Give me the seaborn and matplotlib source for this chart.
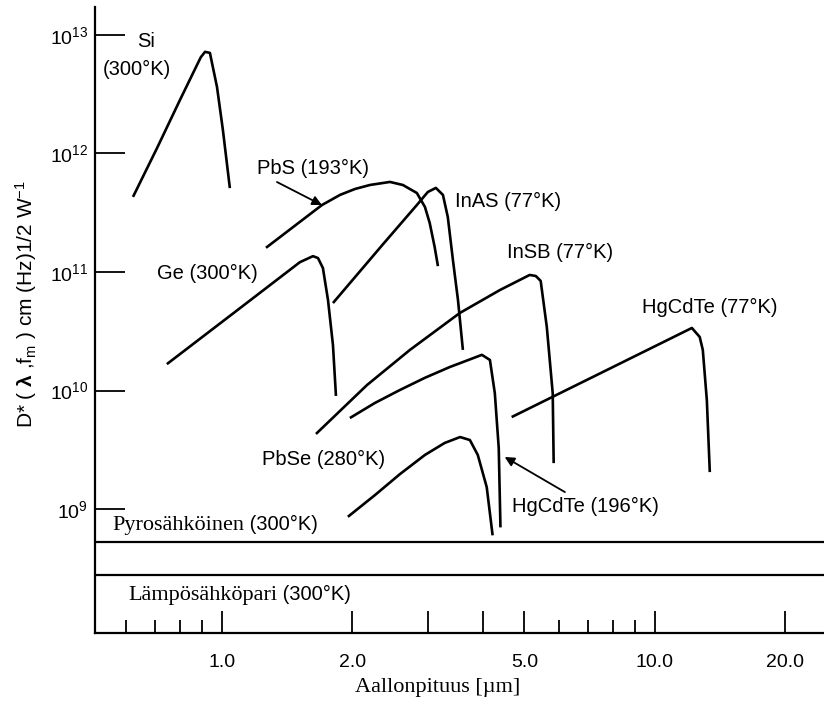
import matplotlib
matplotlib.use("Agg")
import matplotlib.pyplot as plt
import seaborn as sns
import pandas as pd
from matplotlib.ticker import FixedLocator, FixedFormatter, NullFormatter

# ---------------- data (wavelength in um, D* in cm Hz^1/2 W^-1) ----------------
si_x = [0.623, 0.708, 0.800, 0.876, 0.894, 0.914, 0.938, 0.974, 1.005, 1.043]
si_y = [4.3e11, 1.11e12, 2.83e12, 5.59e12, 6.5e12, 7.2e12, 7.05e12, 3.64e12, 1.58e12, 5.1e11]

ge_x = [0.746, 1.072, 1.514, 1.623, 1.667, 1.711, 1.758, 1.805, 1.834]
ge_y = [1.67e10, 4.6e10, 1.21e11, 1.36e11, 1.31e11, 1.08e11, 5.8e10, 2.42e10, 9.0e9]

pbs_x = [1.264, 1.702, 1.874, 2.028, 2.197, 2.444, 2.618, 2.82, 2.944, 3.02, 3.10, 3.155]
pbs_y = [1.6e11, 3.67e11, 4.47e11, 5.01e11, 5.42e11, 5.75e11, 5.42e11, 4.64e11, 3.54e11,
         2.59e11, 1.63e11, 1.12e11]

inas_x = [1.805, 2.354, 2.82, 2.99, 3.12, 3.24, 3.325, 3.417, 3.51, 3.603]
inas_y = [5.47e10, 1.71e11, 3.67e11, 4.73e11, 5.12e11, 4.47e11, 2.91e11, 1.26e11, 5.8e10, 2.2e10]

insb_x = [1.649, 2.162, 2.718, 3.545, 4.39, 5.14, 5.31, 5.45, 5.63, 5.81, 5.84]
insb_y = [4.3e9, 1.11e10, 2.20e10, 4.51e10, 7.05e10, 9.44e10, 9.25e10, 8.4e10, 3.44e10,
          9.5e9, 2.44e9]

hgcdte77_x = [4.67, 7.46, 12.18, 12.7, 12.91, 13.19, 13.4]
hgcdte77_y = [5.97e9, 1.39e10, 3.37e10, 2.83e10, 2.2e10, 8.3e9, 2.05e9]

hgcdte196_x = [1.975, 2.256, 2.577, 2.944, 3.363, 3.74, 3.986, 4.16, 4.27, 4.36, 4.40]
hgcdte196_y = [5.86e9, 7.85e9, 1.01e10, 1.28e10, 1.58e10, 1.83e10, 2.0e10, 1.81e10, 9.5e9,
               3.27e9, 7.0e8]

pbse_x = [1.954, 2.256, 2.577, 2.944, 3.27, 3.55, 3.74, 3.90, 4.09, 4.22]
pbse_y = [8.6e8, 1.31e9, 1.97e9, 2.86e9, 3.61e9, 4.05e9, 3.82e9, 2.86e9, 1.53e9, 6.0e8]

band_levels = [5.27e8, 2.77e8]   # pyroelectric / thermocouple band edges

xtick_major = [1, 2, 3, 4, 5, 10, 20]
xtick_labels = ["1.0", "2.0", "", "", "5.0", "10.0", "20.0"]
xtick_minor = [0.6, 0.7, 0.8, 0.9, 6, 7, 8, 9]
ytick_vals = [1e9, 1e10, 1e11, 1e12, 1e13]
ytick_labels = [r"$10^{9}$", r"$10^{10}$", r"$10^{11}$", r"$10^{12}$", r"$10^{13}$"]

curves = {
    "Si": (si_x, si_y), "Ge": (ge_x, ge_y), "PbS": (pbs_x, pbs_y),
    "InAs": (inas_x, inas_y), "InSb": (insb_x, insb_y),
    "HgCdTe77": (hgcdte77_x, hgcdte77_y), "HgCdTe196": (hgcdte196_x, hgcdte196_y),
    "PbSe": (pbse_x, pbse_y),
}
df = pd.concat([pd.DataFrame({"det": k, "wl": v[0], "D": v[1]}) for k, v in curves.items()],
               ignore_index=True)

# ---------------- style ----------------
sns.set_theme(style="white")
SANS = ["Liberation Sans", "DejaVu Sans"]
SERIF = ["Liberation Serif", "DejaVu Serif"]
plt.rcParams["font.family"] = SANS
plt.rcParams["mathtext.fontset"] = "custom"
plt.rcParams["mathtext.rm"] = "Liberation Sans"
plt.rcParams["mathtext.it"] = "Liberation Sans:italic"
plt.rcParams["mathtext.bf"] = "Liberation Sans:bold"
plt.rcParams["lines.solid_joinstyle"] = "round"
plt.rcParams["lines.solid_capstyle"] = "butt"

fig = plt.figure(figsize=(8.24, 7.02), dpi=100)
ax = fig.add_axes([95 / 824, 69 / 702, 729 / 824, 626 / 702])
ax.set_xscale("log")
ax.set_yscale("log")

for det, sub in df.groupby("det", sort=False):
    sns.lineplot(data=sub, x="wl", y="D", sort=False, estimator=None,
                 color="black", lw=1.9, ax=ax, legend=False)

for lvl in band_levels:
    ax.axhline(lvl, color="black", lw=1.6)

ax.set_xlim(0.509, 24.6)
ax.set_ylim(9.0e7, 1.72e13)

# spines
sns.despine(ax=ax)
for s in ("left", "bottom"):
    ax.spines[s].set_color("black")
    ax.spines[s].set_linewidth(1.6)

# ticks
ax.xaxis.set_major_locator(FixedLocator(xtick_major))
ax.xaxis.set_major_formatter(FixedFormatter(xtick_labels))
ax.xaxis.set_minor_locator(FixedLocator(xtick_minor))
ax.xaxis.set_minor_formatter(NullFormatter())
ax.yaxis.set_major_locator(FixedLocator(ytick_vals))
ax.yaxis.set_major_formatter(FixedFormatter(ytick_labels))
ax.yaxis.set_minor_locator(FixedLocator([]))
ax.tick_params(axis="x", which="major", direction="in", length=16, width=1.3,
               color="black", labelsize=14, pad=15, bottom=True, top=False)
ax.tick_params(axis="x", which="minor", direction="in", length=9.5, width=1.3,
               color="black", bottom=True, top=False)
ax.tick_params(axis="y", which="major", direction="in", length=21.5, width=1.3,
               color="black", labelsize=14, pad=5, left=True, right=False)
for t in ax.get_xticklabels() + ax.get_yticklabels():
    t.set_color("black")

# axis labels
ax.set_xlabel("Aallonpituus [µm]", family=SERIF, fontsize=16, color="black", va="top")
ax.xaxis.set_label_coords(0.4705, -0.072)
ax.set_ylabel(r"D* ( $\mathbf{\lambda}$ ,f$_{\mathrm{m}}$ ) cm (Hz)1/2 W$^{-1}$",
              fontsize=15, color="black", va="center")
ax.yaxis.set_label_coords(-0.094, 0.5256)

# curve labels
FS = 14.5
lab = dict(fontsize=FS, color="black", ha="left", va="baseline", family=SANS)
ax.text(0.636, 7.93e12, "Si", **lab)
ax.text(0.531, 4.59e12, "(300°K)", **lab)
ax.text(1.205, 6.7e11, "PbS (193°K)", **lab)
ax.text(3.45, 3.53e11, "InAS (77°K)", **lab)
ax.text(4.55, 1.31e11, "InSB (77°K)", **lab)
ax.text(0.708, 8.7e10, "Ge (300°K)", **lab)
ax.text(9.33, 4.5e10, "HgCdTe (77°K)", **lab)
ax.text(1.237, 2.35e9, "PbSe (280°K)", **lab)
ax.text(4.67, 9.4e8, "HgCdTe (196°K)", **lab)

t1 = ax.text(0.557, 6.65e8, "Pyrosähköinen", fontsize=16, family=SERIF,
             color="black", ha="left", va="baseline")
ax.annotate(" (300°K)", xy=(1, 6.65e8), xycoords=(t1, "data"), fontsize=FS,
            family=SANS, color="black", ha="left", va="baseline")
t2 = ax.text(0.607, 1.71e8, "Lämpösähköpari", fontsize=16, family=SERIF,
             color="black", ha="left", va="baseline")
ax.annotate(" (300°K)", xy=(1, 1.71e8), xycoords=(t2, "data"), fontsize=FS,
            family=SANS, color="black", ha="left", va="baseline")

arrow = dict(arrowstyle="-|>", color="black", lw=1.3, mutation_scale=14,
             shrinkA=0, shrinkB=0)
ax.annotate("", xy=(1.702, 3.67e11), xytext=(1.34, 5.74e11), arrowprops=arrow)
ax.annotate("", xy=(4.50, 2.75e9), xytext=(6.20, 1.39e9), arrowprops=arrow)

fig.savefig("out.png", dpi=100, facecolor="white")
